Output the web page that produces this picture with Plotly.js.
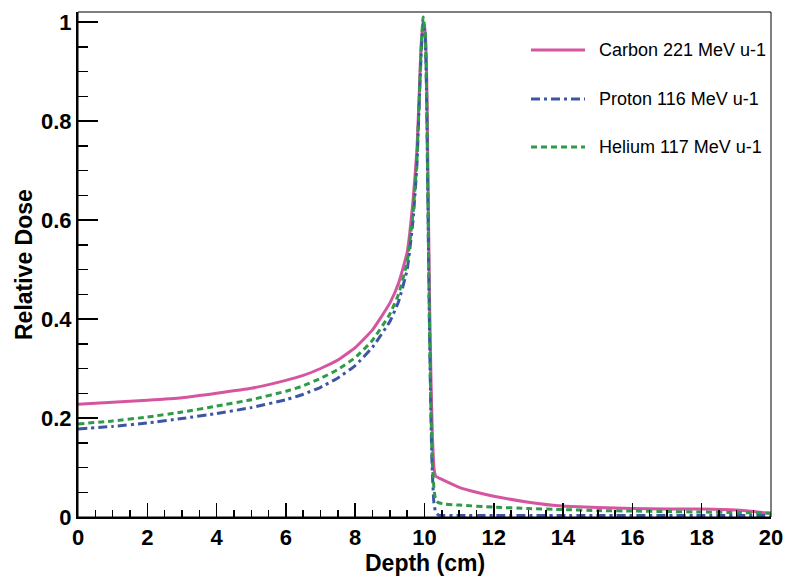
<!DOCTYPE html>
<html>
<head>
<meta charset="utf-8">
<script src="https://cdn.plot.ly/plotly-3.0.1.min.js"></script>
<style>
html,body{margin:0;padding:0;background:#fff;}
#chart{width:786px;height:577px;}
</style>
</head>
<body>
<div id="chart"></div>
<script>
// ---- data ----
const seriesNames = ["Carbon 221 MeV u-1", "Proton 116 MeV u-1", "Helium 117 MeV u-1"];

const carbonDepth = [0,1,2,3,4,5,6,6.5,7,7.5,8,8.5,9,9.25,9.5,9.67,9.78,9.84,9.9,9.96,10.02,10.06,10.09,10.12,10.15,10.19,10.23,10.28,10.33,10.5,11,11.5,12,13,14,15,16,17,18,19,19.5,20];
const carbonDose  = [0.228,0.232,0.236,0.241,0.250,0.260,0.276,0.286,0.300,0.317,0.342,0.378,0.432,0.472,0.535,0.64,0.74,0.84,0.95,1.0,0.98,0.90,0.75,0.58,0.42,0.27,0.16,0.095,0.082,0.076,0.060,0.050,0.042,0.030,0.022,0.019,0.017,0.016,0.016,0.014,0.011,0.007];

const protonDepth = [0,1,2,3,4,5,6,6.5,7,7.5,8,8.5,9,9.25,9.5,9.67,9.78,9.84,9.9,9.96,10.02,10.06,10.1,10.14,10.18,10.22,10.27,10.32,10.4,11,12,14,16,18,20];
const protonDose  = [0.178,0.183,0.190,0.199,0.209,0.221,0.237,0.248,0.262,0.281,0.306,0.343,0.395,0.435,0.50,0.60,0.71,0.82,0.93,1.0,0.97,0.85,0.62,0.40,0.22,0.10,0.03,0.01,0.004,0.003,0.003,0.003,0.003,0.003,0.003];

const heliumDepth = [0,1,2,3,4,5,6,6.5,7,7.5,8,8.5,9,9.25,9.5,9.67,9.78,9.84,9.9,9.96,10.02,10.06,10.1,10.14,10.18,10.22,10.27,10.32,10.4,10.6,11,12,13,14,15,16,17,18,19,20];
const heliumDose  = [0.188,0.194,0.202,0.212,0.224,0.237,0.254,0.265,0.280,0.298,0.322,0.357,0.410,0.450,0.515,0.615,0.72,0.83,0.94,1.01,0.98,0.86,0.63,0.41,0.24,0.12,0.06,0.035,0.029,0.026,0.024,0.020,0.017,0.015,0.013,0.012,0.011,0.010,0.009,0.008];

const xTickVals = [0,2,4,6,8,10,12,14,16,18,20];
const yTickVals = [0,0.2,0.4,0.6,0.8,1];

// ---- styles ----
const colors = ["#d655a0", "#3c55a5", "#2f9a48"];
const dashes = ["solid", "9px,4px,3px,4px", "6px,4px"];
const F = "Liberation Sans, Arial, Helvetica, sans-serif";

const xs = [carbonDepth, protonDepth, heliumDepth];
const ys = [carbonDose, protonDose, heliumDose];

const traces = seriesNames.map((n, i) => ({
  x: xs[i], y: ys[i], name: n, type: "scatter", mode: "lines",
  line: {color: colors[i], width: 3, dash: dashes[i], shape: "spline", smoothing: 0.4},
  showlegend: false
}));

// manual legend (paper coordinates)
const legY = [0.9248, 0.8277, 0.7327];
const shapes = [{
  type: "rect", xref: "paper", yref: "paper", x0: 0, x1: 1, y0: 0, y1: 1,
  line: {color: "#000", width: 1}, layer: "above"
}];
const annotations = [];
seriesNames.forEach((n, i) => {
  shapes.push({type: "line", xref: "paper", yref: "paper", x0: 0.6537, x1: 0.7316, y0: legY[i], y1: legY[i],
    line: {color: colors[i], width: 3, dash: dashes[i]}});
  annotations.push({xref: "paper", yref: "paper", x: 0.749, y: legY[i], xanchor: "left", yanchor: "middle",
    text: n, showarrow: false, font: {family: F, size: 18, color: "#000"}});
});
annotations.push({xref: "paper", yref: "paper", x: 0.5, y: -0.092, xanchor: "center", yanchor: "middle",
  text: "Depth (cm)", showarrow: false, font: {family: F, size: 23, color: "#000", weight: 700}});
annotations.push({xref: "paper", yref: "paper", x: -0.0779, y: 0.499, xanchor: "center", yanchor: "middle",
  text: "Relative Dose", textangle: -90, showarrow: false, font: {family: F, size: 23, color: "#000", weight: 700}});

const layout = {
  width: 786, height: 577,
  margin: {l: 78, r: 15, t: 12, b: 60, pad: 0},
  paper_bgcolor: "#fff", plot_bgcolor: "#fff",
  showlegend: false,
  xaxis: {
    range: [0, 20], tickvals: xTickVals, ticks: "inside", ticklen: 14, tickwidth: 1.5, tickcolor: "#000",
    minor: {dtick: 0.5, ticks: "inside", ticklen: 7, tickwidth: 1.5, tickcolor: "#000", showgrid: false},
    showgrid: false, zeroline: false, showline: true, linecolor: "#000", linewidth: 2,
    tickfont: {family: F, size: 22, color: "#000", weight: 700}
  },
  yaxis: {
    range: [0, 1.0202], tickvals: yTickVals, ticks: "inside", ticklen: 20, tickwidth: 1.5, tickcolor: "#000",
    minor: {dtick: 0.05, ticks: "inside", ticklen: 10, tickwidth: 1.5, tickcolor: "#000", showgrid: false},
    showgrid: false, zeroline: false, showline: true, linecolor: "#000", linewidth: 2,
    tickfont: {family: F, size: 22, color: "#000", weight: 700}
  },
  shapes: shapes,
  annotations: annotations
};

Plotly.newPlot("chart", traces, layout, {displayModeBar: false, staticPlot: true});
</script>
</body>
</html>
